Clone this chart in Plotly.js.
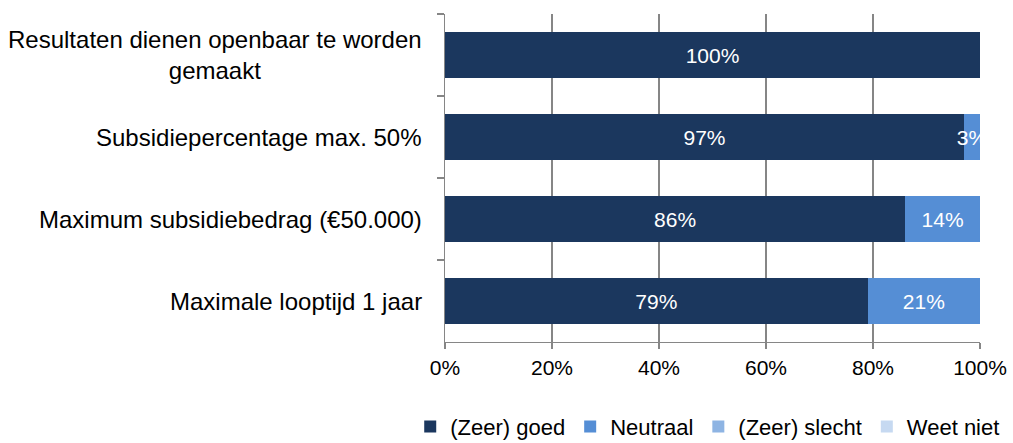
<!DOCTYPE html>
<html>
<head>
<meta charset="utf-8">
<script src="https://cdn.plot.ly/plotly-3.0.1.min.js"></script>
<style>html,body{margin:0;padding:0;background:#fff;}#chart{width:1013px;height:443px;}</style>
</head>
<body>
<div id="chart"></div>
<script>
const categories = [
  "Resultaten dienen openbaar te worden<br>gemaakt",
  "Subsidiepercentage max. 50%",
  "Maximum subsidiebedrag (€50.000)",
  "Maximale looptijd 1 jaar"
];
const seriesNames = ["(Zeer) goed", "Neutraal", "(Zeer) slecht", "Weet niet"];
const goed = [100, 97, 86, 79];
const neutraal = [0, 3, 14, 21];
const slecht = [0, 0, 0, 0];
const weetNiet = [0, 0, 0, 0];
const xTickVals = [0, 20, 40, 60, 80, 100];
const xTickText = ["0%", "20%", "40%", "60%", "80%", "100%"];

const colors = ["#1B375E", "#558ED5", "#8EB4E3", "#C6D9F1"];
const allSeries = [goed, neutraal, slecht, weetNiet];
const FONT = "Liberation Sans, Arial, sans-serif";

const traces = allSeries.map((vals, i) => ({
  type: "bar",
  orientation: "h",
  name: seriesNames[i],
  y: categories,
  x: vals,
  marker: {color: colors[i], line: {width: 0}},
  text: vals.map(v => v > 0 ? v + "%" : ""),
  textposition: "inside",
  insidetextanchor: "middle",
  constraintext: "none",
  textangle: 0,
  cliponaxis: true,
  textfont: {color: "#ffffff", size: 21, family: FONT},
  hoverinfo: "x+name"
}));

const annotations = categories.map(c => ({
  xref: "paper", yref: "y",
  x: -0.04, y: c,
  xanchor: "right", yanchor: "middle",
  text: c, align: "center", showarrow: false,
  font: {size: 24, color: "#000000", family: FONT}
}));

const layout = {
  width: 1013, height: 443,
  margin: {l: 445, r: 33, t: 14, b: 101, autoexpand: false},
  barmode: "stack",
  bargap: 0.43,
  paper_bgcolor: "#ffffff",
  plot_bgcolor: "#ffffff",
  font: {family: FONT, size: 21, color: "#000000"},
  xaxis: {
    range: [0, 100],
    tickvals: xTickVals, ticktext: xTickText,
    showgrid: true, gridcolor: "#868686", gridwidth: 1.3,
    showline: true, linecolor: "#868686", linewidth: 1.3,
    ticks: "outside", ticklen: 6, tickcolor: "#868686", tickwidth: 1.3,
    zeroline: false, fixedrange: true,
    tickfont: {size: 21, family: FONT, color: "#000000"}
  },
  yaxis: {
    type: "category",
    autorange: "reversed",
    showticklabels: false,
    showline: true, linecolor: "#868686", linewidth: 1.3,
    ticks: "outside", tickson: "boundaries", ticklen: 7, tickcolor: "#868686", tickwidth: 1.3,
    showgrid: false, zeroline: false, fixedrange: true
  },
  annotations: annotations,
  showlegend: true,
  legend: {
    orientation: "h",
    xref: "paper", yref: "paper",
    x: -0.065, xanchor: "left",
    y: -0.322, yanchor: "bottom",
    font: {size: 22, color: "#000000", family: FONT},
    itemwidth: 30,
    borderwidth: 0,
    tracegroupgap: 0,
    traceorder: "normal"
  }
};

Plotly.newPlot("chart", traces, layout, {displayModeBar: false, staticPlot: true});
</script>
</body>
</html>
